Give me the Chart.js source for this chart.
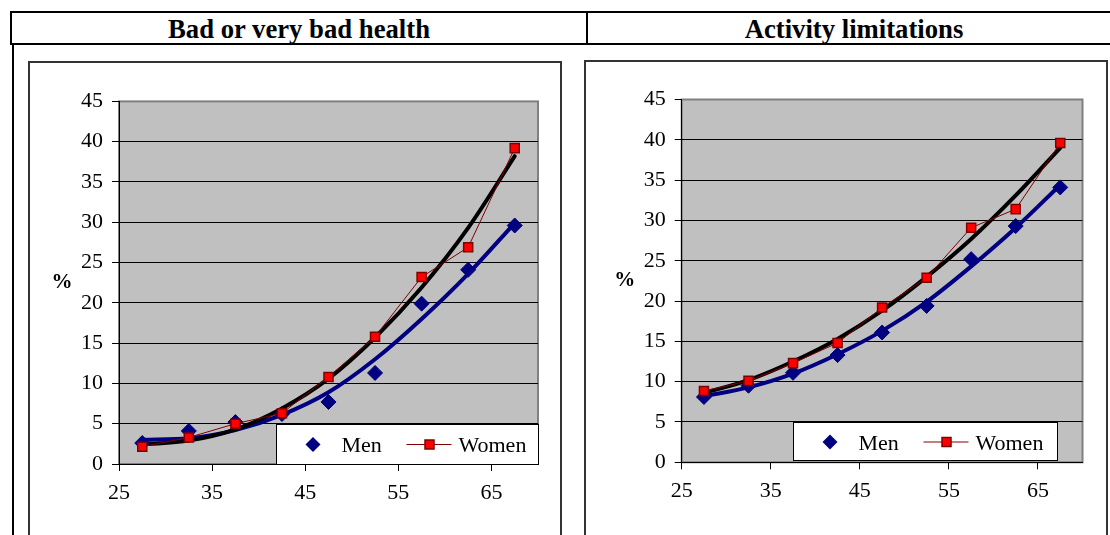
<!DOCTYPE html>
<html>
<head>
<meta charset="utf-8">
<script src="https://cdn.jsdelivr.net/npm/chart.js@4.4.1/dist/chart.umd.min.js"></script>
<style>
  html, body { margin: 0; padding: 0; background: #fff; width: 1110px; height: 535px; overflow: hidden; }
  .rule { position: absolute; background: #000; }
  .title { position: absolute; top: 14px; height: 26px; line-height: 26px; text-align: center;
           font: bold 26.7px 'Liberation Serif', 'Times New Roman', serif; color: #000; white-space: nowrap; }
  .frame { position: absolute; box-sizing: border-box; border: 2px solid #333; background: #fff; overflow: hidden; }
  .frame canvas { display: block; }
</style>
</head>
<body>
<!-- table rules -->
<div class="rule" style="left:10px;top:11px;width:1100px;height:2px"></div>
<div class="rule" style="left:10px;top:11px;width:2px;height:34px"></div>
<div class="rule" style="left:10px;top:43px;width:1100px;height:2px"></div>
<div class="rule" style="left:586px;top:11px;width:2px;height:33px"></div>
<div class="rule" style="left:12px;top:43px;width:2px;height:492px"></div>

<div class="title" style="left:12px;width:574px">Bad or very bad health</div>
<div class="title" style="left:588px;width:532px">Activity limitations</div>

<div class="frame" style="left:28px;top:61px;width:534px;height:480px"><canvas id="health" width="530" height="472"></canvas></div>
<div class="frame" style="left:584px;top:60px;width:524px;height:480px"><canvas id="limits" width="520" height="473"></canvas></div>

<script>
// Age-group midpoints (x) and axis ticks
const ageGroups = [27.5, 32.5, 37.5, 42.5, 47.5, 52.5, 57.5, 62.5, 67.5];
const xTicks = [25, 35, 45, 55, 65];
const yTicks = [0, 5, 10, 15, 20, 25, 30, 35, 40, 45];
const seriesLabels = ['Men', 'Women'];

// Bad or very bad health (%)
const healthMen        = [2.6, 4.1, 5.2, 6.2, 7.7, 11.3, 19.9, 24.1, 29.6];
const healthWomen      = [2.15, 3.3, 5.0, 6.3, 10.8, 15.8, 23.2, 26.9, 39.2];
const healthMenTrend   = [3.0, 3.2, 4.2, 6.1, 8.9, 13.0, 18.0, 23.6, 29.9];
const healthWomenTrend = [2.4, 2.9, 4.3, 6.9, 10.6, 15.7, 21.9, 29.3, 38.2];

// Activity limitations (%)
const limitMen         = [8.1, 9.5, 11.1, 13.3, 16.1, 19.4, 25.2, 29.3, 34.1];
const limitWomen       = [8.85, 10.1, 12.3, 14.8, 19.2, 22.9, 29.1, 31.4, 39.6];
const limitMenTrend    = [8.2, 9.3, 11.0, 13.4, 16.3, 19.9, 24.3, 29.1, 34.4];
const limitWomenTrend  = [8.6, 10.2, 12.5, 15.3, 18.8, 23.0, 27.7, 33.1, 39.0];

const SERIF = "'Liberation Serif', 'Times New Roman', serif";
const NAVY = '#000080';
const DARKRED = '#800000';
const RED = '#ff0000';

Chart.defaults.font.family = SERIF;
Chart.defaults.font.size = 22;
Chart.defaults.color = '#000';

const toPoints = vals => ageGroups.map((x, i) => ({ x, y: vals[i] }));

// grey plot area with a grey frame
const plotFrame = {
  id: 'plotFrame',
  beforeDraw(chart) {
    const { ctx, chartArea: a } = chart;
    ctx.save();
    ctx.fillStyle = '#c0c0c0';
    ctx.fillRect(a.left, a.top, a.right - a.left, a.bottom - a.top);
    ctx.strokeStyle = '#808080';
    ctx.lineWidth = 2;
    ctx.strokeRect(a.left, a.top, a.right - a.left, a.bottom - a.top);
    ctx.restore();
  }
};

// horizontal "%" axis label
const percentLabel = {
  id: 'percentLabel',
  afterDraw(chart, args, opts) {
    const { ctx, chartArea: a } = chart;
    ctx.save();
    ctx.font = 'bold 21px ' + SERIF;
    ctx.fillStyle = '#000';
    ctx.textAlign = 'center';
    ctx.textBaseline = 'middle';
    ctx.fillText('%', a.left - opts.offset, (a.top + a.bottom) / 2);
    ctx.restore();
  }
};

// boxed legend inside the plot area
const boxLegend = {
  id: 'boxLegend',
  afterDraw(chart, args, opts) {
    const { ctx, chartArea: a } = chart;
    const w = opts.width, h = opts.height;
    const x0 = Math.round(a.right - opts.right - w) + 0.5;
    const y0 = Math.round(a.bottom - opts.bottom - h) + 0.5;
    ctx.save();
    ctx.fillStyle = '#fff';
    ctx.fillRect(x0, y0, w, h);
    ctx.strokeStyle = '#000';
    ctx.lineWidth = 1;
    ctx.strokeRect(x0, y0, w, h);
    const cy = y0 + opts.midY;
    // Men: diamond marker
    ctx.fillStyle = NAVY;
    ctx.beginPath();
    ctx.moveTo(x0 + 29, cy); ctx.lineTo(x0 + 36.5, cy - 7.5); ctx.lineTo(x0 + 44, cy); ctx.lineTo(x0 + 36.5, cy + 7.5);
    ctx.closePath(); ctx.fill();
    // Women: line with square marker
    ctx.strokeStyle = DARKRED; ctx.lineWidth = 1;
    ctx.beginPath(); ctx.moveTo(x0 + 130, cy); ctx.lineTo(x0 + 175, cy); ctx.stroke();
    ctx.fillStyle = RED; ctx.strokeStyle = DARKRED; ctx.lineWidth = 1.5;
    ctx.fillRect(x0 + 148.5, cy - 4.5, 9, 9);
    ctx.strokeRect(x0 + 148.5, cy - 4.5, 9, 9);
    // texts
    ctx.fillStyle = '#000';
    ctx.font = '22px ' + SERIF;
    ctx.textAlign = 'left';
    ctx.textBaseline = 'alphabetic';
    ctx.fillText(seriesLabels[0], x0 + 65, cy + 7.5);
    ctx.fillText(seriesLabels[1], x0 + 182, cy + 7.5);
    ctx.restore();
  }
};

function makeChart(id, men, women, menTrend, womenTrend, box) {
  return new Chart(document.getElementById(id), {
    type: 'line',
    data: {
      datasets: [
        { label: seriesLabels[1], data: toPoints(women), showLine: true, borderColor: DARKRED, borderWidth: 1,
          pointStyle: 'rect', pointRadius: 6.4, pointBackgroundColor: RED, pointBorderColor: DARKRED,
          pointBorderWidth: 1.5, tension: 0 },
        { label: seriesLabels[0], data: toPoints(men), showLine: false,
          pointStyle: 'rectRot', pointRadius: 7.5, pointBackgroundColor: NAVY, pointBorderColor: NAVY,
          pointBorderWidth: 1 },
        { label: 'Women trend', data: toPoints(womenTrend), borderColor: '#000', borderWidth: 4,
          pointRadius: 0, cubicInterpolationMode: 'monotone', borderCapStyle: 'round' },
        { label: 'Men trend', data: toPoints(menTrend), borderColor: NAVY, borderWidth: 4,
          pointRadius: 0, cubicInterpolationMode: 'monotone', borderCapStyle: 'round' }
      ]
    },
    options: {
      responsive: false,
      animation: false,
      events: [],
      layout: { padding: { top: box.top, right: box.right, left: 0, bottom: 0 } },
      plugins: {
        legend: { display: false },
        tooltip: { enabled: false },
        percentLabel: { offset: 57 },
        boxLegend: box.legend
      },
      scales: {
        x: {
          type: 'linear', min: 25, max: 70,
          afterBuildTicks: s => { s.ticks = xTicks.map(v => ({ value: v })); },
          afterFit: s => { s.height = box.xHeight; },
          grid: { drawOnChartArea: false, drawTicks: true, tickLength: 7, tickColor: '#000' },
          border: { color: '#000', width: 1 },
          ticks: { padding: 9, maxRotation: 0, autoSkip: false, color: '#000' }
        },
        y: {
          min: 0, max: 45,
          afterBuildTicks: s => { s.ticks = yTicks.map(v => ({ value: v })); },
          afterFit: s => { s.width = box.yWidth; },
          grid: { color: c => (c.tick && c.tick.value === 45 ? '#808080' : '#000'), lineWidth: 1,
                  tickLength: 7, tickColor: '#000' },
          border: { color: '#000', width: 1 },
          ticks: { padding: 9, color: '#000' }
        }
      }
    },
    plugins: [plotFrame, percentLabel, boxLegend]
  });
}

makeChart('health', healthMen, healthWomen, healthMenTrend, healthWomenTrend, {
  top: 38.4, right: 22, yWidth: 89, xHeight: 71,
  legend: { width: 262, height: 40, right: 0, bottom: 0, midY: 20 }
});
makeChart('limits', limitMen, limitWomen, limitMenTrend, limitWomenTrend, {
  top: 37.5, right: 23.5, yWidth: 95.7, xHeight: 72.7,
  legend: { width: 264, height: 38, right: 26, bottom: 2, midY: 19.5 }
});
</script>
</body>
</html>
